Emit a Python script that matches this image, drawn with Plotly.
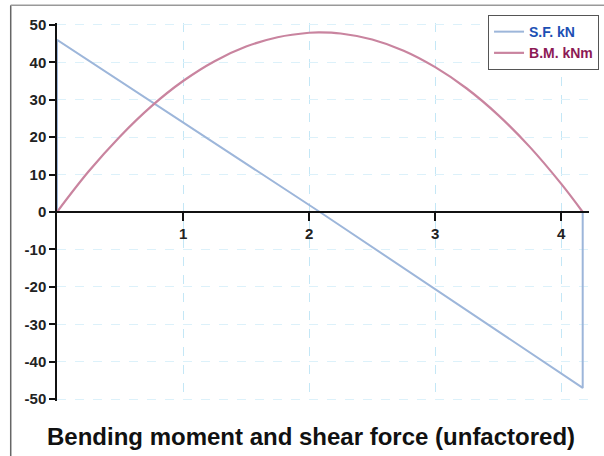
import plotly.graph_objects as go

# Data
sf_x = [0, 0, 2.085, 4.17, 4.17]
sf_kN = [0, 46, 0, -47, 0]

bm_x = [0, 0.25, 0.5, 0.75, 1.0, 1.25, 1.5, 1.75, 2.0, 2.085, 2.25, 2.5, 2.75, 3.0, 3.25, 3.5, 3.75, 4.0, 4.17]
bm_kNm = [0, 10.8, 20.2, 28.3, 35.0, 40.3, 44.2, 46.7, 47.9, 48.0, 47.7, 46.1, 43.1, 38.7, 33.0, 25.9, 17.4, 7.5, 0]

x_ticks = [1, 2, 3, 4]
x_tick_labels = ["1", "2", "3", "4"]
y_ticks = [-50, -40, -30, -20, -10, 0, 10, 20, 30, 40, 50]
y_tick_labels = ["-50", "-40", "-30", "-20", "-10", "0", "10", "20", "30", "40", "50"]

title_text = "Bending moment and shear force (unfactored)"

fig = go.Figure()
fig.add_trace(go.Scatter(
    x=sf_x, y=sf_kN, mode="lines",
    name="<span style='color:#1c4fb4'>S.F. kN</span>",
    line=dict(color="#9db6da", width=2),
))
fig.add_trace(go.Scatter(
    x=bm_x, y=bm_kNm, mode="lines", line_shape="spline",
    name="<span style='color:#8c1a55'>B.M. kNm</span>",
    line=dict(color="#c9849f", width=2.2),
))

fig.update_layout(
    width=604, height=456,
    margin=dict(l=57, r=15, t=23, b=55, autoexpand=False),
    paper_bgcolor="white", plot_bgcolor="white",
    font=dict(family="Liberation Sans, Arial, sans-serif", size=14, color="#222"),
    showlegend=True,
    legend=dict(
        xref="container", yref="container",
        x=0.808, y=0.967, xanchor="left", yanchor="top",
        bordercolor="#555", borderwidth=1, bgcolor="white",
        font=dict(size=14, weight="bold"),
        itemwidth=30, tracegroupgap=0,
    ),
    xaxis=dict(
        range=[0, 4.22], tickvals=x_ticks, ticktext=x_tick_labels,
        ticks="outside", ticklen=8, tickwidth=1.5, tickcolor="#111",
        showline=True, linecolor="#111", linewidth=1.5,
        anchor="free", position=0.5,
        showgrid=True, gridcolor="#c4e7f6", griddash="dash", gridwidth=1,
        zeroline=False,
        tickfont=dict(size=15, weight="bold", color="#222"),
    ),
    yaxis=dict(
        range=[-50.5, 50.5], tickvals=y_ticks, ticktext=y_tick_labels,
        ticks="outside", ticklen=6, tickwidth=1.5, tickcolor="#111",
        showline=True, linecolor="#111", linewidth=1.5,
        showgrid=True, gridcolor="#dcf1fa", griddash="dash", gridwidth=1,
        zeroline=False,
        tickfont=dict(size=15, weight="bold", color="#222"),
    ),
    annotations=[dict(
        text=title_text, xref="paper", yref="paper",
        x=0.477, y=-0.095, xanchor="center", yanchor="middle", showarrow=False,
        font=dict(size=24, weight="bold", color="#111"),
    )],
    shapes=[
        dict(type="line", xref="paper", yref="paper", x0=-0.087, x1=-0.087, y0=-0.15, y1=1.047,
             line=dict(color="#666", width=1.5)),
        dict(type="line", xref="paper", yref="paper", x0=-0.087, x1=1.03, y0=1.047, y1=1.047,
             line=dict(color="#999", width=1.5)),
    ],
)

fig.write_html(
    "out.html",
    config={"displayModeBar": False},
    post_script="document.body.style.margin='0';document.body.style.overflow='hidden';",
)
